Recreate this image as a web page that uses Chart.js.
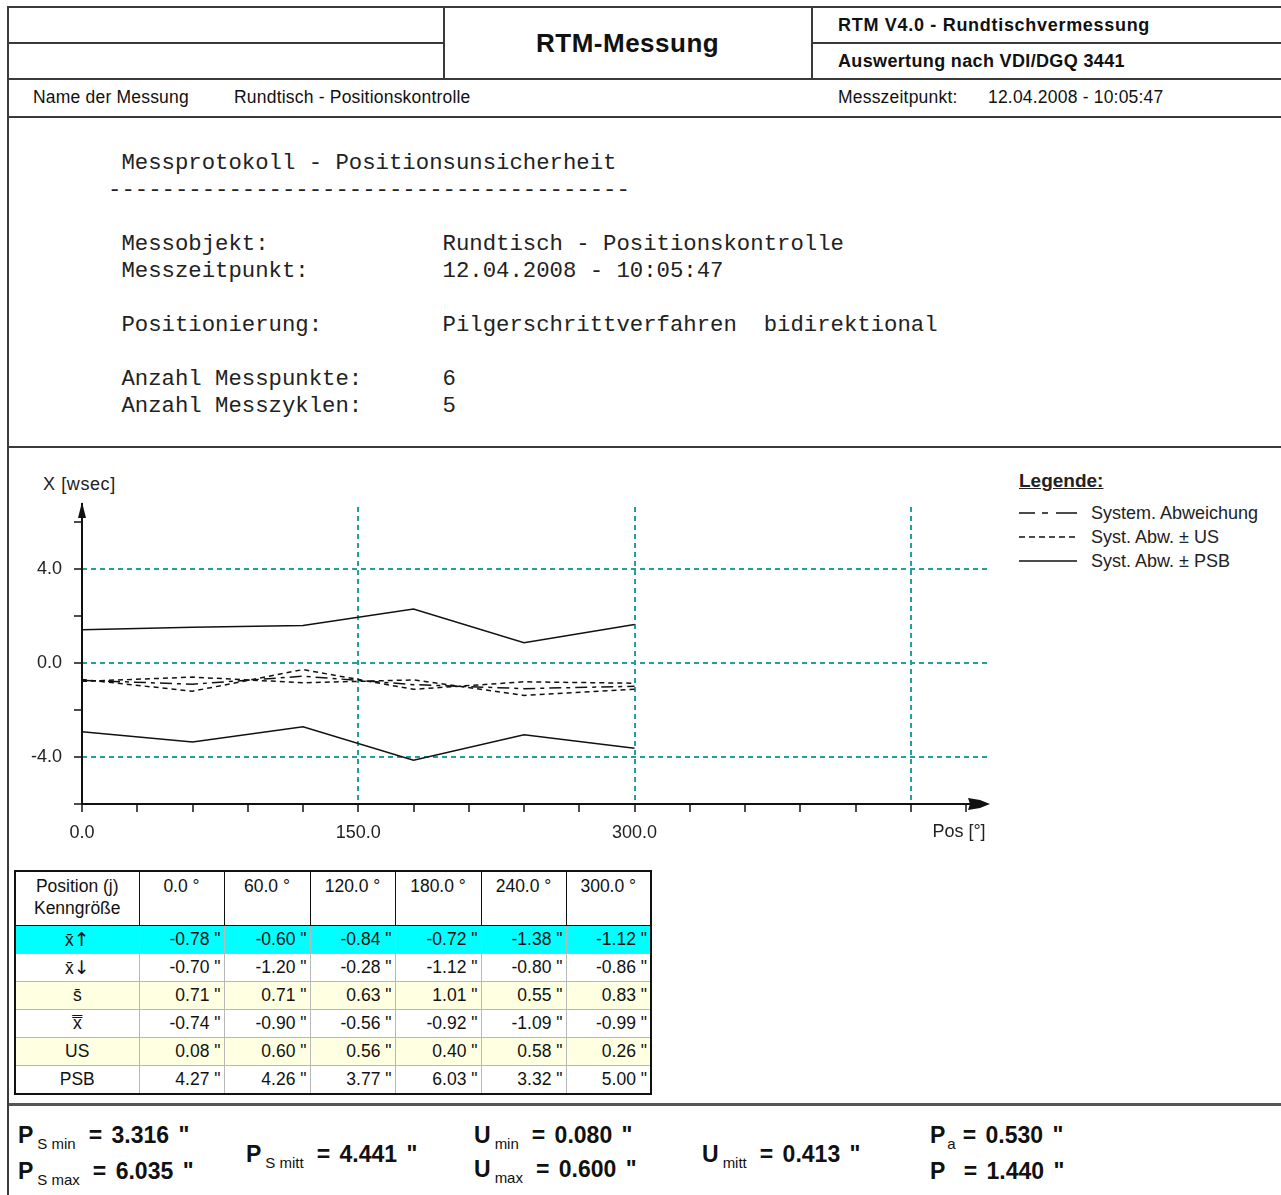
<!DOCTYPE html>
<html>
<head>
<meta charset="utf-8">
<script src="https://cdn.jsdelivr.net/npm/chart.js@4.4.0/dist/chart.umd.min.js"></script>
<style>
  body { margin: 0; background: #fff; }
  #page { position: relative; width: 1281px; height: 1195px; overflow: hidden; background: #fff;
          font-family: "Liberation Sans", Arial, sans-serif; color: #111; }
  .ln { position: absolute; background: #3a3a3a; }
  .t { position: absolute; white-space: pre; line-height: 1; }
  .mono { position: absolute; left: 108px; top: 150px; margin: 0; font-family: "Liberation Mono", monospace;
          font-size: 22.3px; line-height: 27px; color: #222; }
  #chartWrap { position: absolute; left: 9px; top: 448px; width: 1000px; height: 410px; }
  #legend { position: absolute; left: 1019px; top: 470px; font-size: 18px; color: #222; }
  #legend .hd { font-weight: bold; text-decoration: underline; font-size: 19px; margin-bottom: 9px; }
  #legend .row { height: 24px; display: flex; align-items: center; }
  #legend svg { margin-right: 14px; }
  #tbl { position: absolute; left: 14px; top: 870px; border-collapse: collapse; table-layout: fixed;
         font-size: 17.5px; color: #111; border: 2px solid #111; }
  #tbl td { padding: 0 3px; overflow: hidden; white-space: nowrap; }
  #tbl tr.head td { border: 1.5px solid #111; height: 49px; vertical-align: top; text-align: center; padding-top: 4px; }
  #tbl tr.head td.first { line-height: 22px; padding-top: 3px; }
  #tbl tr.data td { border: 1px solid #b8b8b8; height: 27px; text-align: right; vertical-align: middle; }
  #tbl tr.data td.lbl { text-align: center; }
  #tbl .arr { font-family: "DejaVu Sans", sans-serif; font-size: 19px; }
  #tbl tr.cyan td { background: #00ffff; }
  #tbl tr.yel td { background: #ffffe1; }
  .ft { position: absolute; white-space: pre; font-weight: bold; font-size: 23px; line-height: 1; word-spacing: 3px; }
  .ft sub { font-weight: normal; font-size: 15px; vertical-align: -6px; margin-left: 4px; margin-right: 13px; word-spacing: 0; }
  .ft sub.sm { margin-left: 2px; margin-right: 7px; }
</style>
</head>
<body>
<div id="page">
  <!-- frame -->
  <div class="ln" style="left:8px;top:6px;width:1273px;height:2px"></div>
  <div class="ln" style="left:8px;top:42px;width:436px;height:2px"></div>
  <div class="ln" style="left:812px;top:42px;width:469px;height:2px"></div>
  <div class="ln" style="left:8px;top:78px;width:1273px;height:2px"></div>
  <div class="ln" style="left:8px;top:116px;width:1273px;height:2px"></div>
  <div class="ln" style="left:443px;top:7px;width:2px;height:72px"></div>
  <div class="ln" style="left:811px;top:7px;width:2px;height:72px"></div>
  <div class="ln" style="left:8px;top:446px;width:1273px;height:2px"></div>
  <div class="ln" style="left:8px;top:1103px;width:1273px;height:3px;background:#555"></div>
  <div class="ln" style="left:7px;top:6px;width:2px;height:1189px"></div>

  <!-- header -->
  <div class="t" style="left:536px;top:30px;font-size:26px;font-weight:bold;letter-spacing:0.5px;">RTM-Messung</div>
  <div class="t" style="left:838px;top:16px;font-size:18px;font-weight:bold;letter-spacing:0.7px;">RTM V4.0 - Rundtischvermessung</div>
  <div class="t" style="left:838px;top:52px;font-size:18px;font-weight:bold;letter-spacing:0.35px;">Auswertung nach VDI/DGQ 3441</div>
  <div class="t" style="left:33px;top:89px;font-size:17.5px;letter-spacing:0.2px;">Name der Messung</div>
  <div class="t" style="left:234px;top:89px;font-size:17.5px;letter-spacing:0.2px;">Rundtisch - Positionskontrolle</div>
  <div class="t" style="left:838px;top:89px;font-size:17.5px;letter-spacing:0.2px;">Messzeitpunkt:</div>
  <div class="t" style="left:988px;top:89px;font-size:17.5px;letter-spacing:0.2px;">12.04.2008 - 10:05:47</div>

  <!-- protocol -->
<pre class="mono"> Messprotokoll - Positionsunsicherheit
---------------------------------------

 Messobjekt:             Rundtisch - Positionskontrolle
 Messzeitpunkt:          12.04.2008 - 10:05:47

 Positionierung:         Pilgerschrittverfahren  bidirektional

 Anzahl Messpunkte:      6
 Anzahl Messzyklen:      5</pre>

  <!-- chart -->
  <div class="t" style="left:43px;top:475px;font-size:18px;letter-spacing:0.6px;color:#222;">X [wsec]</div>
  <div id="chartWrap"><canvas id="chart" width="1000" height="410"></canvas></div>

  <div id="legend">
    <div class="hd">Legende:</div>
    <div class="row"><svg width="58" height="4"><path d="M0 2H16M23 2H29M37 2H58" stroke="#111" stroke-width="1.5"/></svg>System. Abweichung</div>
    <div class="row"><svg width="58" height="4"><line x1="0" y1="2" x2="58" y2="2" stroke="#111" stroke-width="1.5" stroke-dasharray="6 4"/></svg>Syst. Abw. ± US</div>
    <div class="row"><svg width="58" height="4"><line x1="0" y1="2" x2="58" y2="2" stroke="#111" stroke-width="1.5"/></svg>Syst. Abw. ± PSB</div>
  </div>

  <table id="tbl"></table>

  <!-- footer -->
  <div class="ft" style="left:18px;top:1124px;">P<sub>S min</sub>= 3.316 "</div>
  <div class="ft" style="left:18px;top:1160px;">P<sub>S max</sub>= 6.035 "</div>
  <div class="ft" style="left:246px;top:1143px;">P<sub>S mitt</sub>= 4.441 "</div>
  <div class="ft" style="left:474px;top:1124px;">U<sub>min</sub>= 0.080 "</div>
  <div class="ft" style="left:474px;top:1158px;">U<sub>max</sub>= 0.600 "</div>
  <div class="ft" style="left:702px;top:1143px;">U<sub>mitt</sub>= 0.413 "</div>
  <div class="ft" style="left:930px;top:1124px;">P<sub class="sm">a</sub>= 0.530 "</div>
  <div class="ft" style="left:930px;top:1160px;">P  = 1.440 "</div>
</div>

<script>
// measuring positions [deg]
const positions = [0, 60, 120, 180, 240, 300];
const posLabels = ['0.0 °', '60.0 °', '120.0 °', '180.0 °', '240.0 °', '300.0 °'];

// table values ["]
const meanUp = [-0.78, -0.60, -0.84, -0.72, -1.38, -1.12];
const meanDown = [-0.70, -1.20, -0.28, -1.12, -0.80, -0.86];
const sBar = [0.71, 0.71, 0.63, 1.01, 0.55, 0.83];
const meanAll = [-0.74, -0.90, -0.56, -0.92, -1.09, -0.99];
const usVals = [0.08, 0.60, 0.56, 0.40, 0.58, 0.26];
const psbVals = [4.27, 4.26, 3.77, 6.03, 3.32, 5.00];

// PSB band
const psbUpper = [1.42, 1.52, 1.60, 2.30, 0.86, 1.64];
const psbLower = [-2.92, -3.36, -2.71, -4.14, -3.05, -3.63];

// axis ticks
const xTicks = [0, 30, 60, 90, 120, 150, 180, 210, 240, 270, 300, 330, 360, 390, 420, 450, 480];
const xLabeled = [0, 150, 300];
const yTicks = [-6, -4, -2, 0, 2, 4, 6];
const yLabeled = [-4, 0, 4];

const teal = '#22a0a0';
const ink = '#111';

// build table
function buildTable() {
  const tbl = document.getElementById('tbl');
  const widths = [124, 85, 86, 85, 86, 85, 85];
  let html = '<colgroup>' + widths.map(w => `<col style="width:${w}px">`).join('') + '</colgroup>';
  html += '<tr class="head"><td class="first">Position (j)<br>Kenngröße</td>' +
    posLabels.map(p => `<td>${p}</td>`).join('') + '</tr>';
  const rows = [
    ['x\u0304<span class="arr">\u2191</span>', meanUp, 'cyan'],
    ['x\u0304<span class="arr">\u2193</span>', meanDown, ''],
    ['s\u0304', sBar, 'yel'],
    ['x\u033F', meanAll, ''],
    ['US', usVals, 'yel'],
    ['PSB', psbVals, '']
  ];
  rows.forEach(([name, vals, cls]) => {
    html += `<tr class="data ${cls}"><td class="lbl">${name}</td>` +
      vals.map(v => `<td>${v.toFixed(2)} "</td>`).join('') + '</tr>';
  });
  tbl.innerHTML = html;
}
buildTable();

const toXY = arr => arr.map((y, i) => ({ x: positions[i], y: y }));

// axis lines with arrow heads
const axisArrows = {
  id: 'axisArrows',
  afterDatasetsDraw(chart) {
    const { ctx, chartArea: a } = chart;
    ctx.save();
    ctx.strokeStyle = ink;
    ctx.fillStyle = ink;
    ctx.lineWidth = 2;
    ctx.beginPath();
    ctx.moveTo(a.left, a.bottom);
    ctx.lineTo(a.right - 10, a.bottom);
    ctx.moveTo(a.left, a.bottom);
    ctx.lineTo(a.left, a.top - 4);
    ctx.stroke();
    // x arrow
    ctx.beginPath();
    ctx.moveTo(a.right, a.bottom);
    ctx.lineTo(a.right - 10, a.bottom - 4);
    ctx.lineTo(a.right - 22, a.bottom - 6);
    ctx.lineTo(a.right - 20, a.bottom);
    ctx.lineTo(a.right - 22, a.bottom + 6);
    ctx.lineTo(a.right - 10, a.bottom + 4);
    ctx.closePath();
    ctx.fill();
    // y arrow
    ctx.beginPath();
    ctx.moveTo(a.left, a.top - 5);
    ctx.lineTo(a.left - 4, a.top + 11);
    ctx.lineTo(a.left + 4, a.top + 11);
    ctx.closePath();
    ctx.fill();
    // x axis caption
    ctx.font = '18px "Liberation Sans", Arial, sans-serif';
    ctx.fillStyle = '#222';
    ctx.textAlign = 'center';
    ctx.textBaseline = 'middle';
    ctx.fillText('Pos [°]', a.right - 31, a.bottom + 28);
    ctx.restore();
  }
};

new Chart(document.getElementById('chart'), {
  type: 'line',
  data: {
    datasets: [
      { label: 'Syst. Abw. + PSB', data: toXY(psbUpper), borderColor: ink, borderWidth: 1.5 },
      { label: 'Syst. Abw. - PSB', data: toXY(psbLower), borderColor: ink, borderWidth: 1.5 },
      { label: 'x up', data: toXY(meanUp), borderColor: ink, borderWidth: 1.5, borderDash: [5, 4] },
      { label: 'x down', data: toXY(meanDown), borderColor: ink, borderWidth: 1.5, borderDash: [5, 4] },
      { label: 'System. Abweichung', data: toXY(meanAll), borderColor: ink, borderWidth: 1.5, borderDash: [12, 5, 4, 5] }
    ]
  },
  options: {
    responsive: false,
    animation: false,
    events: [],
    elements: { point: { radius: 0 }, line: { tension: 0 } },
    layout: { padding: { top: 59, right: 19, left: 0, bottom: 0 } },
    plugins: { legend: { display: false }, tooltip: { enabled: false } },
    scales: {
      x: {
        type: 'linear',
        min: 0,
        max: 493,
        afterBuildTicks: axis => { axis.ticks = xTicks.map(v => ({ value: v })); },
        afterFit: axis => { axis.height = 54; },
        border: { display: false, dash: [5, 4] },
        grid: {
          color: c => (c.tick && c.tick.value > 0 && c.tick.value % 150 === 0) ? teal : 'rgba(0,0,0,0)',
          lineWidth: 2,
          tickColor: ink,
          tickWidth: 1.5,
          tickLength: 8,
          tickBorderDash: []
        },
        ticks: {
          autoSkip: false,
          maxRotation: 0,
          padding: 10,
          color: '#222',
          font: { family: '"Liberation Sans", Arial, sans-serif', size: 18 },
          callback: v => xLabeled.includes(v) ? v.toFixed(1) : ''
        }
      },
      y: {
        type: 'linear',
        min: -6,
        max: 6.64,
        afterBuildTicks: axis => { axis.ticks = yTicks.map(v => ({ value: v })); },
        afterFit: axis => { axis.width = 73; },
        border: { display: false, dash: [5, 4] },
        grid: {
          color: c => (c.tick && c.tick.value % 4 === 0) ? teal : 'rgba(0,0,0,0)',
          lineWidth: 2,
          tickColor: ink,
          tickWidth: 1.5,
          tickLength: 8,
          tickBorderDash: []
        },
        ticks: {
          padding: 12,
          color: '#222',
          font: { family: '"Liberation Sans", Arial, sans-serif', size: 18 },
          callback: v => yLabeled.includes(v) ? v.toFixed(1) : ''
        }
      }
    }
  },
  plugins: [axisArrows]
});
</script>
</body>
</html>
